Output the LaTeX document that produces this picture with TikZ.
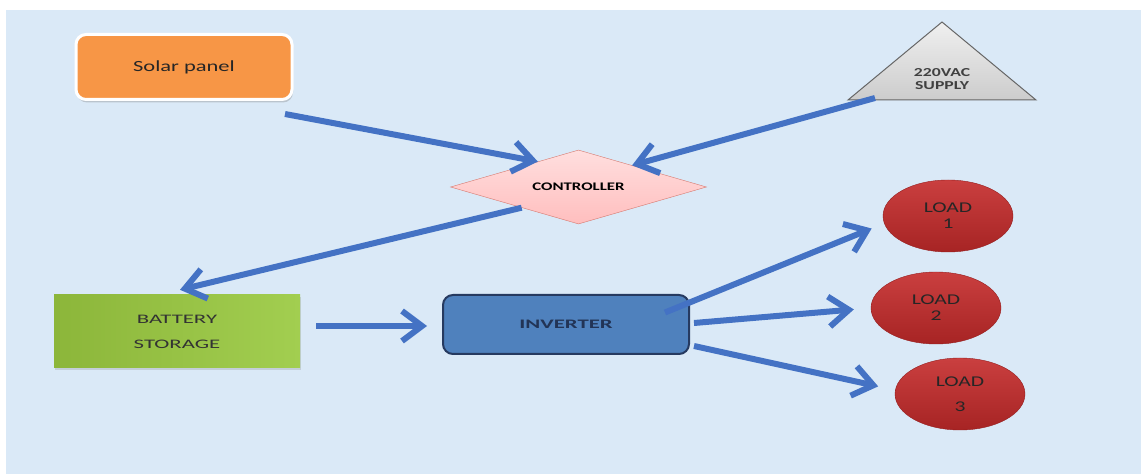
\documentclass[tikz,border=0pt]{standalone}
\usepackage{fontspec}
\setmainfont{Carlito}
\newfontfamily\widefont[FakeStretch=1.45]{Carlito}
\newfontfamily\widerfont[FakeStretch=1.75]{Carlito}
\usetikzlibrary{shapes.geometric,arrows.meta,shadows}

\definecolor{bgblue}{RGB}{218,233,247}
\definecolor{arrowblue}{RGB}{68,114,196}
\definecolor{solarorange}{RGB}{247,150,70}
\definecolor{ctrlpink}{RGB}{255,190,190}
\definecolor{ctrlborder}{RGB}{214,120,110}
\definecolor{batgreen}{RGB}{140,182,58}
\definecolor{batlight}{RGB}{162,206,80}
\definecolor{invblue}{RGB}{79,129,189}
\definecolor{invborder}{RGB}{38,58,96}
\definecolor{loadred}{RGB}{196,42,42}
\definecolor{loadborder}{RGB}{150,30,30}

\begin{document}
\begin{tikzpicture}[x=1pt, y=1pt,
    flow/.style={line width=6pt, arrowblue,
        -{Straight Barb[length=20pt, width=30pt, line width=6pt]}},
    solar/.style={rounded corners=10pt, fill=solarorange, draw=white, line width=3pt,
        minimum width=216pt, minimum height=65pt, text=black!85,
        drop shadow={opacity=0.35, shadow xshift=1pt, shadow yshift=-3pt},
        font=\widefont\fontsize{15.5}{18}\selectfont},
    ctrlbox/.style={diamond, aspect=3.4, minimum width=256pt, minimum height=74pt,
        inner sep=0pt, top color=ctrlpink!50, bottom color=ctrlpink, draw=ctrlborder,
        font=\widefont\bfseries\fontsize{11.6}{13}\selectfont},
    batbox/.style={minimum width=246pt, minimum height=73pt, left color=batgreen,
        right color=batlight, align=center, text=black!80,
        drop shadow={opacity=0.25, shadow xshift=1pt, shadow yshift=-2pt},
        font=\widerfont\fontsize{13}{15}\selectfont},
    invbox/.style={rounded corners=10pt, fill=invblue, draw=invborder, line width=2pt,
        minimum width=246pt, minimum height=59pt, text=invborder!90!black,
        font=\widerfont\bfseries\fontsize{13}{15}\selectfont},
    loadbox/.style={ellipse, minimum width=130pt, minimum height=72pt, inner sep=0pt,
        top color=loadred!90!white, bottom color=loadred!85!black, draw=loadborder,
        align=center, text=black!85, font=\widefont\fontsize{14.9}{16}\selectfont}
]
\useasboundingbox (0,0) rectangle (1141,474);
\fill[bgblue] (6,0) rectangle (1141,464);

% sources and controller
\node[solar] (solar) at (184,407) {Solar panel};
\shadedraw[top color=gray!12, bottom color=gray!40, draw=black!60, line width=1pt]
    (942,452) -- (848,374) -- (1036,374) -- cycle;
\node[align=center, text=black!75, font=\widefont\bfseries\fontsize{12.2}{13}\selectfont]
    (supply) at (942,395) {220VAC\\SUPPLY};
\node[ctrlbox] (ctrl) at (578.5,287) {CONTROLLER};

% storage, inverter and loads
\node[batbox] (bat) at (177,142.5) {BATTERY\\[10pt]STORAGE};
\node[invbox] (inv) at (566,149.5) {INVERTER};
\node[loadbox] (load1) at (948,258) {LOAD\\1};
\node[loadbox] (load2) at (936,166) {LOAD\\2};
\node[loadbox] (load3) at (960,80) {LOAD\\[9pt]3};

% connectors
\coordinate (solartail) at (285,360);
\coordinate (supplytail) at (875,376);
\draw[flow] (solartail) -- (ctrl.148);
\draw[flow] (supplytail) -- (ctrl.22);
\draw[flow] (ctrl.200) -- ([xshift=3pt,yshift=5pt]bat.north);
\draw[flow, shorten <=16pt, shorten >=15pt] ([yshift=5.5pt]bat.east) -- ([yshift=-1.5pt]inv.west);
\draw[flow, shorten >=12pt] ([xshift=-25pt,yshift=12pt]inv.east) -- ([yshift=-8pt]load1.west);
\draw[flow, shorten >=17pt] ([xshift=4pt,yshift=1.5pt]inv.east) -- (load2.west);
\draw[flow, shorten >=17pt] ([xshift=4pt,yshift=-21.5pt]inv.east) -- ([yshift=4pt]load3.west);
\end{tikzpicture}
\end{document}
